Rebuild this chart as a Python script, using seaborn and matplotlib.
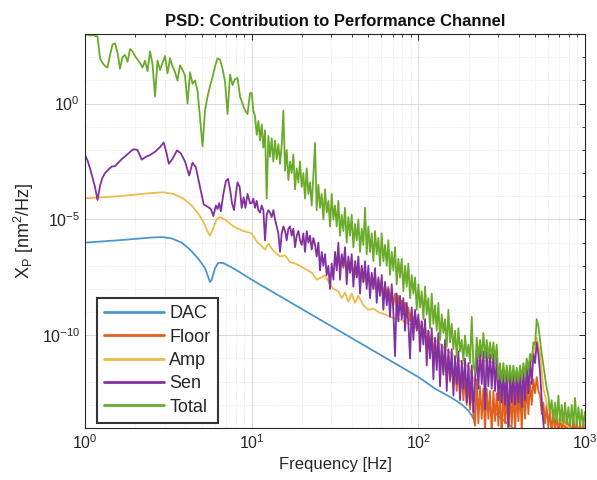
import numpy as np
import matplotlib
matplotlib.use("Agg")
import matplotlib.pyplot as plt
import matplotlib.ticker as mticker
import seaborn as sns

# ---------------- data (log10 frequency [Hz], log10 PSD [nm^2/Hz]) ----------------
# low-frequency grid (1 Hz .. ~10 Hz)
lf_lo = [
    0.000, 0.015, 0.030, 0.045, 0.060, 0.075, 0.090, 0.105, 0.120, 0.135,
    0.150, 0.165, 0.180, 0.195, 0.210, 0.225, 0.240, 0.255, 0.270, 0.285,
    0.300, 0.315, 0.330, 0.345, 0.360, 0.375, 0.390, 0.405, 0.420, 0.435,
    0.450, 0.465, 0.480, 0.495, 0.510, 0.525, 0.540, 0.555, 0.570, 0.585,
    0.600, 0.615, 0.630, 0.645, 0.660, 0.675, 0.690, 0.705, 0.720, 0.735,
    0.750, 0.765, 0.780, 0.795, 0.810, 0.825, 0.840, 0.855, 0.870, 0.885,
    0.900, 0.915, 0.930, 0.945, 0.960, 0.975, 0.990,
]
# high-frequency grid (10 Hz .. 1000 Hz)
lf_hi = [
    1.00, 1.01, 1.02, 1.03, 1.04, 1.05, 1.06, 1.07, 1.08, 1.09,
    1.10, 1.11, 1.12, 1.13, 1.14, 1.15, 1.16, 1.17, 1.18, 1.19,
    1.20, 1.21, 1.22, 1.23, 1.24, 1.25, 1.26, 1.27, 1.28, 1.29,
    1.30, 1.31, 1.32, 1.33, 1.34, 1.35, 1.36, 1.37, 1.38, 1.39,
    1.40, 1.41, 1.42, 1.43, 1.44, 1.45, 1.46, 1.47, 1.48, 1.49,
    1.50, 1.51, 1.52, 1.53, 1.54, 1.55, 1.56, 1.57, 1.58, 1.59,
    1.60, 1.61, 1.62, 1.63, 1.64, 1.65, 1.66, 1.67, 1.68, 1.69,
    1.70, 1.71, 1.72, 1.73, 1.74, 1.75, 1.76, 1.77, 1.78, 1.79,
    1.80, 1.81, 1.82, 1.83, 1.84, 1.85, 1.86, 1.87, 1.88, 1.89,
    1.90, 1.91, 1.92, 1.93, 1.94, 1.95, 1.96, 1.97, 1.98, 1.99,
    2.00, 2.01, 2.02, 2.03, 2.04, 2.05, 2.06, 2.07, 2.08, 2.09,
    2.10, 2.11, 2.12, 2.13, 2.14, 2.15, 2.16, 2.17, 2.18, 2.19,
    2.20, 2.21, 2.22, 2.23, 2.24, 2.25, 2.26, 2.27, 2.28, 2.29,
    2.30, 2.31, 2.32, 2.33, 2.34, 2.35, 2.36, 2.37, 2.38, 2.39,
    2.40, 2.41, 2.42, 2.43, 2.44, 2.45, 2.46, 2.47, 2.48, 2.49,
    2.50, 2.51, 2.52, 2.53, 2.54, 2.55, 2.56, 2.57, 2.58, 2.59,
    2.60, 2.61, 2.62, 2.63, 2.64, 2.65, 2.66, 2.67, 2.68, 2.69,
    2.70, 2.71, 2.72, 2.73, 2.74, 2.75, 2.76, 2.77, 2.78, 2.79,
    2.80, 2.81, 2.82, 2.83, 2.84, 2.85, 2.86, 2.87, 2.88, 2.89,
    2.90, 2.91, 2.92, 2.93, 2.94, 2.95, 2.96, 2.97, 2.98, 2.99,
    3.00,
]

total_lo = [
    2.95, 2.98, 2.93, 2.97, 2.92, 2.9, 1.95, 1.75, 1.62, 1.55,
    2.1, 2.55, 2.6, 2.2, 1.5, 2.0, 2.1, 1.8, 2.35, 2.25,
    2.05, 1.9, 1.75, 1.55, 1.85, 1.4, 2.25, 1.7, 0.3, 1.85,
    1.45, 1.75, 2.05, 1.3, 1.95, 1.6, 1.35, 1.0, 1.65, 1.45,
    1.2, 0.0, 1.35, 0.85, 1.0, 0.55, -0.6, -1.85, -0.3, 0.3,
    0.75, 1.15, 1.6, 1.95, 1.9, 1.5, 0.95, -0.45, 1.25, 0.8,
    1.05, 1.1, 0.3, 0.0, -0.3, -0.45, 0.45,
]
total_hi = [
    0.45, -0.3, -0.55, -1.35, -0.75, -1.6, -0.9, -1.9, -1.15, -4.1,
    -1.4, -2.3, -1.5, -2.5, -1.6, -2.4, -1.75, -2.6, -1.8, -0.3,
    -2.9, -2.0, -3.3, -2.5, -3.0, -2.2, -3.7, -2.8, -3.4, -2.5,
    -3.6, -3.0, -4.1, -2.8, -3.9, -3.4, -4.4, -3.1, -1.7, -4.6,
    -3.5, -4.5, -3.9, -5.0, -3.7, -4.7, -4.2, -5.3, -3.9, -5.0,
    -4.4, -5.3, -4.2, -5.7, -4.8, -5.5, -4.5, -6.0, -4.9, -5.7,
    -4.8, -6.2, -5.2, -5.9, -5.0, -6.4, -5.4, -6.1, -4.5, -6.5,
    -5.3, -6.4, -5.6, -6.8, -5.5, -6.5, -5.8, -7.0, -5.6, -6.8,
    -6.1, -7.0, -5.9, -7.4, -6.4, -7.2, -6.2, -7.8, -6.7, -7.5,
    -6.7, -8.1, -7.0, -7.9, -6.9, -8.4, -7.4, -8.2, -7.5, -8.9,
    -7.8, -8.8, -8.1, -9.3, -7.9, -9.1, -8.4, -9.7, -8.2, -9.5,
    -8.7, -9.8, -8.6, -10.2, -9.1, -9.9, -9.3, -10.5, -8.9, -10.3,
    -9.5, -10.6, -9.8, -10.9, -9.7, -10.7, -10.2, -11.1, -10.0, -10.9,
    -10.4, -11.2, -9.2, -11.3, -11.6, -10.1, -11.0, -10.2, -10.9, -9.9,
    -11.0, -10.2, -11.0, -10.3, -11.0, -10.3, -11.1, -10.4, -11.9, -11.2,
    -12.0, -11.2, -12.0, -11.3, -12.0, -11.3, -12.0, -11.3, -12.0, -11.4,
    -12.0, -11.3, -11.9, -11.2, -11.8, -11.0, -11.5, -10.8, -11.1, -10.3,
    -10.4, -9.3, -9.6, -10.2, -10.8, -11.3, -11.8, -12.3, -12.6, -13.3,
    -12.8, -13.7, -12.9, -13.7, -12.6, -13.8, -13.0, -13.8, -12.9, -13.8,
    -13.1, -13.9, -13.0, -13.9, -12.7, -13.9, -13.1, -13.9, -13.2, -13.9,
    -13.3,
]

sen_lo_lf = [
    0.000, 0.015, 0.030, 0.045, 0.060, 0.075, 0.090, 0.105, 0.120, 0.140,
    0.160, 0.180, 0.200, 0.220, 0.240, 0.265, 0.290, 0.315, 0.340, 0.365,
    0.390, 0.420, 0.450, 0.472, 0.488, 0.503, 0.525, 0.552, 0.575, 0.600,
    0.625, 0.645, 0.665, 0.690, 0.712, 0.735, 0.755, 0.770, 0.785, 0.795,
    0.805, 0.815, 0.830, 0.845, 0.858, 0.870, 0.882, 0.894, 0.905, 0.915,
    0.928, 0.940, 0.952, 0.962, 0.975, 0.990,
]
sen_lo = [
    -2.23, -2.45, -2.8, -3.2, -3.6, -4.16, -3.55, -3.2, -3.0, -2.85,
    -2.72, -2.7, -2.55, -2.4, -2.28, -2.12, -1.97, -2.0, -2.42, -2.3,
    -2.22, -2.08, -1.88, -1.68, -2.1, -2.6, -2.38, -2.02, -2.15, -2.5,
    -3.1, -2.55, -2.75, -3.6, -4.35, -4.45, -4.55, -4.85, -4.4, -4.55,
    -4.3, -4.65, -3.9, -3.35, -3.25, -3.7, -4.3, -4.6, -3.9, -3.4,
    -3.6, -4.5, -4.05, -4.5, -3.9, -4.3,
]
# Sen on lf_hi[0:177] (10 Hz .. ~575 Hz)
sen_hi = [
    -4.3, -4.1, -4.5, -4.2, -4.6, -4.7, -4.4, -4.6, -5.9, -4.8,
    -4.6, -4.7, -4.9, -4.6, -5.0, -5.3, -5.6, -6.4, -5.6, -5.3,
    -5.5, -5.9, -5.4, -5.3, -5.7, -5.4, -6.2, -5.7, -5.5, -5.9,
    -6.1, -5.6, -6.4, -5.5, -6.0, -5.7, -6.3, -5.8, -6.1, -6.6,
    -6.0, -7.2, -6.4, -7.0, -6.5, -7.4, -7.0, -8.0, -6.9, -7.6,
    -6.4, -7.2, -6.0, -7.6, -6.5, -7.0, -6.2, -7.8, -6.6, -7.3,
    -6.5, -7.9, -6.8, -7.5, -6.6, -8.2, -7.0, -7.7, -6.8, -8.0,
    -7.0, -8.4, -7.3, -8.0, -7.1, -8.6, -7.5, -8.3, -7.4, -8.9,
    -7.7, -8.7, -8.0, -9.2, -7.8, -9.0, -10.9, -8.2, -9.4, -8.3,
    -9.3, -8.4, -9.8, -8.6, -9.5, -11.0, -8.8, -10.2, -8.9, -9.8,
    -9.1, -10.7, -9.4, -10.4, -9.3, -11.3, -9.8, -11.0, -9.7, -11.9,
    -10.1, -11.5, -9.9, -12.2, -10.4, -11.7, -10.2, -12.4, -10.6, -11.9,
    -10.6, -12.6, -10.9, -12.1, -10.7, -12.8, -11.1, -12.3, -11.0, -12.9,
    -11.2, -13.0, -11.3, -13.3, -12.0, -10.7, -12.3, -10.6, -12.1, -10.7,
    -13.2, -10.7, -12.2, -10.8, -12.3, -10.8, -12.4, -10.9, -12.8, -11.6,
    -12.9, -11.5, -13.0, -11.5, -13.9, -11.6, -12.9, -11.6, -13.0, -11.6,
    -12.9, -11.5, -13.1, -11.5, -12.8, -11.3, -12.5, -11.1, -12.1, -10.8,
    -11.2, -10.3, -10.8, -11.6, -12.8, -13.8, -14.6,
]

# Floor on lf_hi[50:201] (~32 Hz .. 1000 Hz)
floor_hi = [
    -6.5, -7.0, -6.5, -7.1, -6.6, -7.1, -6.7, -7.2, -6.8, -7.3,
    -6.9, -7.4, -7.0, -7.5, -7.0, -7.6, -7.1, -7.7, -7.2, -7.8,
    -7.3, -7.9, -7.4, -8.0, -7.5, -8.1, -7.6, -8.2, -7.7, -8.3,
    -7.8, -8.4, -7.9, -8.5, -8.1, -8.7, -8.2, -8.8, -8.3, -8.9,
    -8.5, -9.1, -8.6, -9.2, -8.8, -9.4, -8.9, -9.5, -9.1, -9.7,
    -9.3, -9.9, -9.4, -10.1, -9.6, -10.3, -9.8, -10.6, -10.0, -10.8,
    -10.2, -11.1, -10.4, -11.4, -10.6, -11.6, -10.8, -11.8, -10.9, -12.0,
    -11.1, -12.2, -11.3, -12.4, -11.4, -12.6, -11.6, -12.8, -11.8, -13.0,
    -12.0, -13.2, -12.1, -13.5, -13.9, -11.9, -13.8, -12.2, -13.6, -12.3,
    -14.2, -12.3, -13.6, -12.4, -14.3, -12.4, -13.7, -12.5, -13.9, -12.4,
    -14.5, -12.3, -13.8, -12.5, -14.4, -12.4, -13.9, -12.3, -14.2, -12.4,
    -13.7, -12.3, -14.1, -12.2, -13.6, -12.1, -13.4, -12.0, -13.0, -11.9,
    -12.5, -11.8, -12.4, -12.6, -13.4, -12.9, -13.8, -13.0, -14.0, -13.2,
    -14.3, -13.3, -14.0, -13.4, -14.4, -13.4, -14.1, -13.5, -14.4, -13.5,
    -14.2, -13.6, -14.5, -13.6, -14.3, -13.7, -14.5, -13.7, -14.4, -13.8,
    -14.5,
]

amp_lf = [
    0.0, 0.1, 0.2, 0.3, 0.4, 0.47, 0.53, 0.59, 0.64, 0.68,
    0.71, 0.73, 0.75, 0.77, 0.79, 0.81, 0.84, 0.89, 0.95, 1.0,
    1.03, 1.06, 1.08, 1.10, 1.13, 1.17, 1.20, 1.23, 1.26, 1.29,
    1.33, 1.36, 1.39, 1.42, 1.44, 1.47, 1.49, 1.52, 1.54, 1.56,
    1.58, 1.60, 1.62, 1.64, 1.67, 1.70, 1.73, 1.76, 1.80, 1.83,
    1.87, 1.90, 1.93, 1.97, 2.0, 2.05, 2.1, 2.15, 2.2, 2.25,
    2.3, 2.335, 2.35, 2.4, 2.47, 2.49, 2.55, 2.62, 2.66, 2.69,
    2.71, 2.73, 2.75, 2.78, 2.85, 2.95, 3.0,
]
amp_exp = [
    -4.09, -4.05, -4.0, -3.93, -3.86, -3.83, -3.9, -4.1, -4.4, -4.75,
    -5.1, -5.45, -5.71, -5.35, -5.0, -4.9, -5.0, -5.3, -5.5, -5.6,
    -5.95, -6.15, -6.3, -6.05, -6.35, -6.6, -6.55, -6.85, -6.9, -7.0,
    -7.17, -7.3, -7.6, -7.5, -7.4, -7.8, -8.0, -8.1, -8.4, -8.15,
    -8.55, -8.2, -8.6, -8.3, -8.7, -8.9, -8.85, -9.0, -9.1, -9.2,
    -9.3, -9.35, -9.45, -9.6, -9.75, -9.9, -10.2, -10.5, -10.8, -11.1,
    -11.35, -12.0, -11.1, -11.1, -11.2, -12.0, -12.1, -12.0, -11.6, -10.8,
    -10.1, -10.8, -12.3, -13.2, -13.7, -14.2, -14.4,
]

dac_lf = [
    0.0, 0.1, 0.2, 0.3, 0.4, 0.46, 0.52, 0.58, 0.63, 0.68,
    0.72, 0.74, 0.75, 0.76, 0.78, 0.80, 0.83, 0.9, 1.0, 1.2,
    1.4, 1.6, 1.8, 2.0, 2.1, 2.2, 2.26, 2.3, 2.32, 2.33,
    2.34, 2.35, 2.38, 2.45, 2.6, 3.0,
]
dac_exp = [
    -6.0, -5.95, -5.9, -5.84, -5.78, -5.76, -5.82, -6.0, -6.3, -6.7,
    -7.1, -7.5, -7.7, -7.6, -7.1, -6.87, -6.88, -7.15, -7.6, -8.44,
    -9.28, -10.12, -10.96, -11.8, -12.3, -12.7, -12.98, -13.25, -13.45, -13.6,
    -13.2, -12.75, -12.9, -13.3, -14.2, -15.5,
]

labels = ["DAC", "Floor", "Amp", "Sen", "Total"]
colors = ["#4b96cd", "#e0601e", "#eebb4d", "#8330a0", "#6aab2a"]

# ---------------- plotting ----------------
sns.set_theme(style="white")
plt.rcParams['font.family'] = ['Liberation Sans', 'DejaVu Sans']
plt.rcParams['mathtext.default'] = 'regular'

fig = plt.figure(figsize=(5.97, 4.80), dpi=100)
ax = fig.add_axes([0.1424, 0.1083, 0.8376, 0.8208])
ax.set_xscale('log')
ax.set_yscale('log')

series = [
    (dac_lf, dac_exp),
    (lf_hi[50:201], floor_hi),
    (amp_lf, amp_exp),
    (sen_lo_lf + lf_hi[0:177], sen_lo + sen_hi),
    (lf_lo + lf_hi, total_lo + total_hi),
]
for (lf, ex), name, c in zip(series, labels, colors):
    sns.lineplot(x=10 ** np.array(lf), y=10 ** np.array(ex), ax=ax, color=c,
                 lw=1.3, label=name, estimator=None, sort=False, legend=False)

ax.set_xlim(1, 1000)
ax.set_ylim(1e-14, 1e3)

ax.xaxis.set_major_locator(mticker.FixedLocator([1, 10, 100, 1000]))
ax.xaxis.set_major_formatter(mticker.LogFormatterSciNotation())
ax.xaxis.set_minor_locator(mticker.FixedLocator(
    [k * 10 ** d for d in range(0, 3) for k in range(2, 10)]))
ax.xaxis.set_minor_formatter(mticker.NullFormatter())
ax.yaxis.set_major_locator(mticker.FixedLocator([1e-10, 1e-5, 1e0]))
ax.yaxis.set_major_formatter(mticker.LogFormatterSciNotation())
ax.yaxis.set_minor_locator(mticker.FixedLocator(
    [10.0 ** k for k in range(-14, 4) if k not in (-10, -5, 0)]))
ax.yaxis.set_minor_formatter(mticker.NullFormatter())

ax.tick_params(which='both', direction='in', top=True, right=True,
               colors='#262626', labelsize=11.5)
ax.tick_params(which='major', length=4, width=0.7)
ax.tick_params(which='minor', length=2.5, width=0.6)
ax.grid(which='major', color='#d4d4d4', lw=0.6)
ax.grid(which='minor', color='#e2e2e2', lw=0.6, ls=':')
ax.set_axisbelow(True)
for s in ax.spines.values():
    s.set_color('#262626')
    s.set_linewidth(0.8)

ax.set_title('PSD: Contribution to Performance Channel', fontsize=12,
             fontweight='bold', pad=6, color='#111111')
ax.set_xlabel('Frequency [Hz]', fontsize=12, color='#262626', labelpad=4)
ax.set_ylabel('X$_P$ [nm$^2$/Hz]', fontsize=13, color='#262626', labelpad=4)

handles = [plt.Line2D([], [], color=c, lw=2) for c in colors]
leg = ax.legend(handles, labels, loc='lower left', bbox_to_anchor=(0.024, 0.013),
                borderaxespad=0, fontsize=13, handlelength=3.3, handletextpad=0.3,
                labelspacing=0.35, borderpad=0.4, frameon=True, fancybox=False,
                framealpha=1, edgecolor='#333333')
leg.get_frame().set_linewidth(1.5)

fig.savefig('out.png', dpi=100)
